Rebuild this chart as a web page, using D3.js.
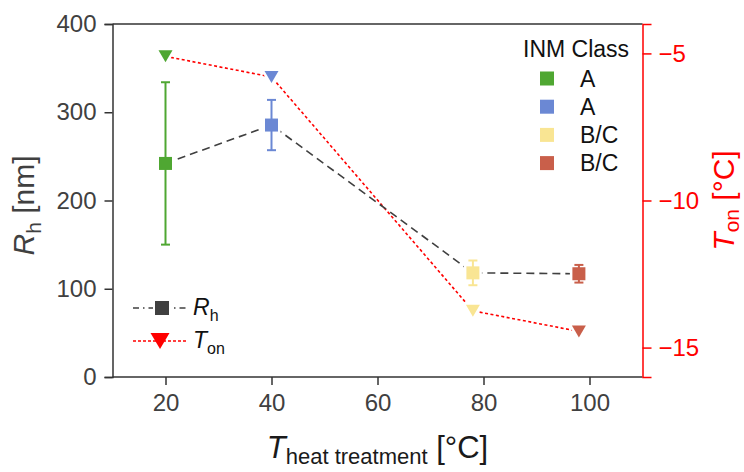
<!DOCTYPE html>
<html lang="en">
<head>
<meta charset="UTF-8">
<title>Rh and Ton vs heat treatment</title>
<script src="https://d3js.org/d3.v7.min.js"></script>
<style>
  body { margin: 0; background: #fff; }
  text { font-family: "Liberation Sans", Arial, sans-serif; }
</style>
</head>
<body>
<script>
  // data
  var temps = [20, 40, 78, 98];
  var rh = [242, 285.5, 118, 117];
  var rhErr = [92, 28.5, 14, 10];
  var ton = [-5.1, -5.8, -13.75, -14.45];
  var classes = ["A", "A", "B/C", "B/C"];
  var colors = ["#4fa732", "#6b88d4", "#f9e593", "#c95f4a"];

  var xTicks = [20, 40, 60, 80, 100];
  var yLTicks = [0, 100, 200, 300, 400];
  var yRTicks = [-15, -10, -5];

  var width = 744, height = 472;
  var margin = {top: 24, right: 101.5, bottom: 95, left: 112.5};
  var axisGray = "#333333";
  var labelGray = "#404040";

  var svg = d3.select("body").append("svg")
    .attr("width", width)
    .attr("height", height);

  var x = d3.scaleLinear().domain([10, 110]).range([margin.left, width - margin.right]);
  var yL = d3.scaleLinear().domain([0, 400]).range([height - margin.bottom, margin.top]);
  var yR = d3.scaleLinear().domain([-16, -4]).range([height - margin.bottom, margin.top]);

  // top frame line
  svg.append("line")
    .attr("x1", x(10)).attr("x2", x(110))
    .attr("y1", yL(400)).attr("y2", yL(400))
    .attr("stroke", axisGray).attr("stroke-width", 1.5);

  // minor ticks first, then major axes on top
  function minor(axisFn, scale, vals) {
    return axisFn(scale).tickValues(vals).tickSize(4.5).tickFormat("");
  }

  var gx = svg.append("g").attr("transform", `translate(0,${yL(0)})`);
  gx.call(minor(d3.axisBottom, x, [30, 50, 70, 90, 110]));
  gx.call(d3.axisBottom(x).tickValues(xTicks).tickSize(8).tickPadding(9).tickFormat(d3.format("d")));
  gx.selectAll(".domain").attr("d", `M${x(10)},0H${x(110)}`);

  var gl = svg.append("g").attr("transform", `translate(${x(10)},0)`);
  gl.call(minor(d3.axisLeft, yL, [50, 150, 250, 350]));
  gl.call(d3.axisLeft(yL).tickValues(yLTicks).tickSize(8).tickPadding(8));

  [gx, gl].forEach(function(g) {
    g.selectAll("path.domain").attr("stroke", axisGray).attr("stroke-width", 1.5);
    g.selectAll(".tick line").attr("stroke", axisGray).attr("stroke-width", 1.5);
    g.selectAll(".tick text").attr("fill", labelGray).style("font-size", "24px");
  });

  var gr = svg.append("g").attr("transform", `translate(${x(110)},0)`);
  gr.call(minor(d3.axisRight, yR, d3.range(-16, -3).filter(d => d % 5 !== 0)));
  gr.call(d3.axisRight(yR).tickValues(yRTicks).tickSize(9).tickPadding(7));
  gr.selectAll("path.domain").attr("stroke", "#ff0000").attr("stroke-width", 1.5);
  gr.selectAll(".tick line").attr("stroke", "#ff0000").attr("stroke-width", 1.5);
  gr.selectAll(".tick text").attr("fill", "#ff0000").style("font-size", "24px");

  // axis titles
  var tl = svg.append("text")
    .attr("transform", `translate(34,${(yL(0) + yL(400)) / 2 + 5}) rotate(-90)`)
    .attr("text-anchor", "middle")
    .attr("fill", labelGray)
    .style("font-size", "30px");
  tl.append("tspan").style("font-style", "italic").text("R");
  tl.append("tspan").style("font-size", "21px").attr("dy", 7).text("h");
  tl.append("tspan").attr("dy", -7).text(" [nm]");

  var tr = svg.append("text")
    .attr("transform", `translate(734,${(yR(-16) + yR(-4)) / 2}) rotate(-90)`)
    .attr("text-anchor", "middle")
    .attr("fill", "#ff0000")
    .style("font-size", "30px");
  tr.append("tspan").style("font-style", "italic").text("T");
  tr.append("tspan").style("font-size", "21px").attr("dy", 5).text("on");
  tr.append("tspan").attr("dy", -5).text(" [°C]");

  var tx = svg.append("text")
    .attr("x", (x(10) + x(110)) / 2)
    .attr("y", 458)
    .attr("text-anchor", "middle")
    .attr("fill", "#1a1a1a")
    .style("font-size", "31px");
  tx.append("tspan").style("font-style", "italic").text("T");
  tx.append("tspan").style("font-size", "22px").attr("dy", 6).text("heat treatment");
  tx.append("tspan").attr("dy", -6).text(" [°C]");

  // connecting lines
  var pts = temps.map((t, i) => ({t: t, rh: rh[i], err: rhErr[i], ton: ton[i], c: colors[i], cls: classes[i]}));

  svg.append("path")
    .datum(pts)
    .attr("fill", "none")
    .attr("stroke", "#ff0000")
    .attr("stroke-width", 1.6)
    .attr("stroke-dasharray", "3,2.5")
    .attr("d", d3.line().x(d => x(d.t)).y(d => yR(d.ton)));

  svg.append("path")
    .datum(pts)
    .attr("fill", "none")
    .attr("stroke", "#404040")
    .attr("stroke-width", 1.6)
    .attr("stroke-dasharray", "8,5")
    .attr("d", d3.line().x(d => x(d.t)).y(d => yL(d.rh)));

  function tri(w, h) {
    return `M${-w / 2},${-h / 2}L${w / 2},${-h / 2}L0,${h / 2}Z`;
  }

  var sq = 13;

  // white halo so the lines stop short of the symbols
  svg.selectAll(".halo-sq").data(pts).enter().append("rect")
    .attr("x", d => x(d.t) - sq / 2 - 2.5)
    .attr("y", d => yL(d.rh) - sq / 2 - 2.5)
    .attr("width", sq + 5).attr("height", sq + 5)
    .attr("fill", "#fff");
  svg.selectAll(".halo-tri").data(pts).enter().append("path")
    .attr("transform", d => `translate(${x(d.t)},${yR(d.ton)})`)
    .attr("d", tri(14, 12))
    .attr("fill", "#fff").attr("stroke", "#fff").attr("stroke-width", 5);

  // error bars
  var eb = svg.selectAll(".err").data(pts).enter().append("g")
    .attr("stroke", d => d.c).attr("stroke-width", 2);
  eb.append("line")
    .attr("x1", d => x(d.t)).attr("x2", d => x(d.t))
    .attr("y1", d => yL(d.rh - d.err)).attr("y2", d => yL(d.rh + d.err));
  eb.append("line")
    .attr("x1", d => x(d.t) - 4.5).attr("x2", d => x(d.t) + 4.5)
    .attr("y1", d => yL(d.rh + d.err)).attr("y2", d => yL(d.rh + d.err));
  eb.append("line")
    .attr("x1", d => x(d.t) - 4.5).attr("x2", d => x(d.t) + 4.5)
    .attr("y1", d => yL(d.rh - d.err)).attr("y2", d => yL(d.rh - d.err));

  svg.selectAll(".sq").data(pts).enter().append("rect")
    .attr("x", d => x(d.t) - sq / 2)
    .attr("y", d => yL(d.rh) - sq / 2)
    .attr("width", sq).attr("height", sq)
    .attr("fill", d => d.c);

  svg.selectAll(".tri").data(pts).enter().append("path")
    .attr("transform", d => `translate(${x(d.t)},${yR(d.ton)})`)
    .attr("d", tri(14, 12))
    .attr("fill", d => d.c);

  // class legend, top right
  svg.append("text")
    .attr("x", 523).attr("y", 57)
    .attr("fill", "#111").style("font-size", "23px")
    .text("INM Class");
  var lg = svg.selectAll(".leg").data(pts).enter().append("g")
    .attr("transform", (d, i) => `translate(0,${78.5 + i * 28.2})`);
  lg.append("rect")
    .attr("x", 540).attr("y", -7).attr("width", 14).attr("height", 14)
    .attr("fill", d => d.c);
  lg.append("text")
    .attr("x", 580).attr("y", 8)
    .attr("fill", "#111").style("font-size", "23px")
    .text(d => d.cls);

  // series legend, bottom left
  var l1 = svg.append("g").attr("transform", "translate(0,308)");
  l1.append("line").attr("x1", 133).attr("x2", 186)
    .attr("stroke", "#404040").attr("stroke-width", 1.6).attr("stroke-dasharray", "6,4,1.5,4");
  l1.append("rect").attr("x", 153).attr("y", -9).attr("width", 18).attr("height", 18).attr("fill", "#fff");
  l1.append("rect").attr("x", 155).attr("y", -7).attr("width", 14).attr("height", 14).attr("fill", "#404040");
  var t1 = l1.append("text").attr("x", 193).attr("y", 7).attr("fill", "#111").style("font-size", "23px");
  t1.append("tspan").style("font-style", "italic").text("R");
  t1.append("tspan").style("font-size", "16px").attr("dy", 6).text("h");

  var l2 = svg.append("g").attr("transform", "translate(0,341)");
  l2.append("line").attr("x1", 133).attr("x2", 186)
    .attr("stroke", "#ff0000").attr("stroke-width", 1.4).attr("stroke-dasharray", "3,2");
  l2.append("path").attr("transform", "translate(160,0)").attr("d", tri(19, 16))
    .attr("fill", "#ff0000");
  var t2 = l2.append("text").attr("x", 193).attr("y", 7).attr("fill", "#111").style("font-size", "23px");
  t2.append("tspan").style("font-style", "italic").text("T");
  t2.append("tspan").style("font-size", "16px").attr("dy", 6).text("on");
</script>
</body>
</html>
